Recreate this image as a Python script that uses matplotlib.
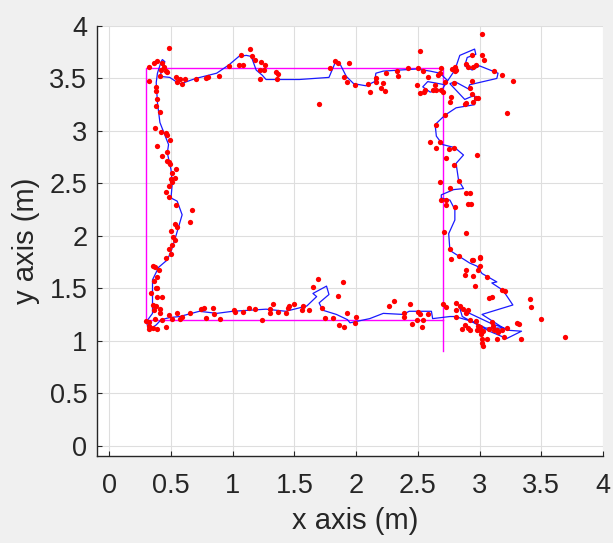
import matplotlib
matplotlib.use("Agg")
import matplotlib.pyplot as plt

# reference route (rectangle corners + lower edge)
ref_x = [2.7, 0.3, 0.3, 2.7, 2.7]
ref_y = [1.2, 1.2, 3.6, 3.6, 0.9]

# estimated trajectory
est_x = [0.32, 0.30, 0.35, 0.35, 0.35, 0.40, 0.47, 0.50, 0.53, 0.59, 0.55, 0.50, 0.51, 0.50,
         0.47, 0.48, 0.45, 0.41, 0.39, 0.38, 0.39, 0.42, 0.43, 0.45, 0.41, 0.49, 0.54, 0.58,
         0.70, 0.87, 0.97, 1.05, 1.11, 1.15, 1.19, 1.24, 1.27, 1.38, 1.54, 1.78, 1.83, 1.86,
         1.92, 1.98, 2.08, 2.15, 2.16, 2.22, 2.35, 2.49, 2.60, 2.68, 2.74, 2.70, 2.60, 2.54,
         2.58, 2.72, 2.80, 2.84, 2.96, 2.97, 2.90, 2.88, 2.94, 3.00, 3.15, 3.14, 2.92, 2.91,
         2.80, 2.76, 2.88, 2.96, 2.96, 2.81, 2.72, 2.64, 2.65, 2.70, 2.80, 2.87, 2.81, 2.83,
         2.87, 2.79, 2.69, 2.69, 2.76, 2.80, 2.80, 2.75, 2.76, 2.84, 2.92, 2.98, 3.02, 3.08,
         3.14, 3.10, 3.19, 3.27, 3.02, 3.22, 3.34, 3.22, 3.08, 2.86, 2.84, 2.92, 3.10, 3.20,
         3.05, 2.95, 2.80, 2.76, 2.62, 2.61, 2.43, 2.38, 2.22, 2.11, 1.95, 1.93, 1.84, 1.73,
         1.70, 1.78, 1.76, 1.65, 1.68, 1.60, 1.43, 1.27, 1.00, 0.87, 0.73, 0.57, 0.49, 0.42,
         0.38, 0.32]
est_y = [1.10, 1.18, 1.26, 1.40, 1.58, 1.70, 1.77, 1.85, 1.96, 2.20, 2.33, 2.36, 2.50, 2.63,
         2.79, 2.87, 2.96, 3.08, 3.27, 3.46, 3.55, 3.66, 3.68, 3.66, 3.52, 3.51, 3.47, 3.45,
         3.50, 3.55, 3.63, 3.71, 3.72, 3.71, 3.58, 3.53, 3.49, 3.49, 3.49, 3.51, 3.65, 3.66,
         3.52, 3.45, 3.43, 3.47, 3.55, 3.57, 3.58, 3.59, 3.57, 3.55, 3.48, 3.40, 3.37, 3.42,
         3.47, 3.44, 3.58, 3.72, 3.78, 3.73, 3.70, 3.62, 3.58, 3.62, 3.55, 3.50, 3.44, 3.40,
         3.47, 3.45, 3.30, 3.34, 3.25, 3.22, 3.15, 3.06, 2.95, 2.87, 2.84, 2.77, 2.69, 2.53,
         2.45, 2.44, 2.39, 2.36, 2.34, 2.25, 2.15, 2.02, 1.86, 1.80, 1.74, 1.71, 1.64, 1.60,
         1.56, 1.55, 1.48, 1.34, 1.25, 1.10, 1.09, 1.02, 1.09, 1.23, 1.31, 1.26, 1.16, 1.12,
         1.12, 1.18, 1.23, 1.23, 1.21, 1.28, 1.28, 1.25, 1.26, 1.21, 1.17, 1.20, 1.25, 1.29,
         1.36, 1.44, 1.52, 1.45, 1.42, 1.33, 1.28, 1.30, 1.28, 1.26, 1.28, 1.23, 1.22, 1.20,
         1.15, 1.10]

# raw position measurements
meas_x = [0.48, 0.32, 0.36, 0.39, 0.43, 0.44, 0.42, 0.46, 0.47, 0.41, 0.32, 0.54, 0.57, 0.55,
          0.61, 0.59, 0.70, 0.78, 0.80, 0.89, 0.97, 1.05, 1.08, 1.07, 1.14, 1.16, 1.18, 1.23,
          1.26, 1.22, 1.25, 1.22, 1.35, 1.37, 1.36, 1.70, 1.83, 1.85, 1.79, 1.90, 1.93, 1.94,
          0.38, 0.38, 0.39, 0.38, 0.37, 0.41, 0.39, 0.43, 0.46, 0.47, 0.49, 0.47, 0.47, 0.54,
          0.42, 0.48, 0.49, 0.51, 0.50, 0.53, 0.51, 0.48, 0.46, 0.48, 0.54, 0.67, 0.65, 0.53,
          0.55, 0.50, 0.52, 0.53, 0.51, 0.48, 0.50, 0.46, 0.35, 0.37, 0.40, 0.39, 0.36, 0.38,
          0.39, 0.34, 0.39, 0.43, 0.35, 0.38, 0.41, 0.36, 0.41, 0.37, 0.30, 0.32, 0.32, 0.35,
          0.32, 0.39, 0.43, 0.46, 0.48, 0.51, 0.55, 0.57, 0.59, 0.65, 0.74, 0.77, 0.78, 0.84,
          0.85, 0.90, 1.01, 1.02, 1.08, 1.13, 1.18, 1.24, 1.30, 1.30, 1.33, 1.37, 1.43, 1.45,
          1.46, 1.50, 1.56, 1.57, 1.62, 1.65, 1.69, 1.72, 1.75, 1.81, 1.85, 1.89, 1.86, 1.90,
          1.93, 2.77, 2.83, 2.95, 3.00, 3.00, 2.99, 2.89, 2.88, 2.95, 3.06, 2.96, 3.18, 3.21,
          3.10, 3.08, 3.41, 3.42, 3.50, 3.69, 3.34, 3.30, 3.32, 2.31, 2.27, 2.44, 2.39, 2.39,
          2.50, 2.52, 2.49, 2.54, 2.58, 2.45, 2.53, 2.00, 1.99, 2.70, 2.73, 2.81, 2.84, 2.81,
          2.87, 2.91, 2.89, 2.81, 2.88, 2.92, 2.97, 2.99, 3.00, 2.92, 3.00, 3.03, 3.10, 3.11,
          3.12, 3.14, 3.15, 3.18, 3.22, 3.14, 3.06, 3.02, 3.02, 3.03, 3.01, 2.98, 2.91, 2.86,
          3.08, 3.20, 3.02, 2.52, 3.02, 3.04, 2.94, 2.89, 2.91, 2.95, 2.97, 2.80, 2.81, 2.78,
          2.80, 3.12, 3.18, 3.27, 3.22, 2.94, 2.92, 2.94, 2.97, 2.99, 2.95, 2.89, 2.88, 2.76,
          2.77, 2.72, 2.79, 2.66, 2.69, 2.68, 2.64, 2.69, 2.70, 2.65, 2.62, 2.55, 2.52, 2.56,
          2.58, 2.49, 2.54, 2.50, 2.42, 2.34, 2.33, 2.23, 2.20, 2.22, 2.16, 2.16, 2.24, 2.11,
          2.10, 1.99, 2.72, 2.65, 2.60, 2.65, 2.68, 2.75, 2.79, 2.73, 2.79, 2.98, 2.68, 2.83,
          2.76, 2.89, 2.92, 2.69, 2.73, 2.73, 2.80, 2.91, 2.93, 2.71, 2.89, 2.76, 2.94, 3.00]
meas_y = [3.79, 3.61, 3.65, 3.67, 3.65, 3.61, 3.58, 3.57, 3.56, 3.52, 3.48, 3.51, 3.49, 3.47,
          3.49, 3.45, 3.49, 3.50, 3.51, 3.52, 3.62, 3.63, 3.63, 3.72, 3.78, 3.71, 3.68, 3.66,
          3.63, 3.58, 3.58, 3.49, 3.56, 3.54, 3.49, 3.26, 3.67, 3.65, 3.60, 3.51, 3.47, 3.65,
          3.42, 3.38, 3.30, 3.24, 3.03, 3.18, 2.86, 2.76, 2.98, 2.96, 2.91, 2.80, 2.71, 2.64,
          2.99, 2.70, 2.68, 2.60, 2.54, 2.55, 2.51, 2.47, 2.42, 2.37, 2.29, 2.25, 2.13, 2.11,
          2.08, 2.05, 1.99, 1.96, 1.91, 1.87, 1.83, 1.79, 1.71, 1.70, 1.67, 1.61, 1.57, 1.50,
          1.50, 1.45, 1.42, 1.42, 1.34, 1.33, 1.30, 1.29, 1.26, 1.21, 1.19, 1.18, 1.14, 1.12,
          1.11, 1.11, 1.20, 1.13, 1.24, 1.21, 1.26, 1.21, 1.23, 1.26, 1.30, 1.31, 1.22, 1.31,
          1.25, 1.21, 1.29, 1.27, 1.27, 1.31, 1.30, 1.20, 1.30, 1.26, 1.35, 1.27, 1.26, 1.31,
          1.33, 1.35, 1.29, 1.33, 1.29, 1.51, 1.59, 1.31, 1.22, 1.22, 1.43, 1.56, 1.15, 1.13,
          1.26, 1.78, 1.81, 1.77, 1.79, 1.71, 1.67, 1.67, 1.63, 1.62, 1.61, 1.52, 1.48, 1.47,
          1.42, 1.41, 1.40, 1.32, 1.21, 1.03, 1.02, 1.17, 1.16, 1.38, 1.33, 1.35, 1.26, 1.23,
          1.27, 1.25, 1.20, 1.20, 1.25, 1.16, 1.13, 1.23, 1.17, 1.35, 1.32, 1.36, 1.33, 1.29,
          1.30, 1.29, 1.26, 1.23, 1.15, 1.20, 1.19, 1.14, 1.13, 1.10, 1.10, 1.09, 1.18, 1.14,
          1.10, 1.10, 1.08, 1.10, 1.12, 1.02, 1.02, 1.02, 0.98, 0.95, 1.06, 1.10, 1.12, 1.11,
          1.11, 1.03, 3.92, 3.76, 3.72, 3.68, 3.72, 3.64, 3.61, 3.61, 3.63, 3.61, 3.58, 3.59,
          3.57, 3.57, 3.53, 3.48, 3.17, 3.48, 3.41, 3.35, 3.31, 3.31, 3.28, 3.27, 3.26, 3.28,
          3.32, 3.47, 3.46, 3.53, 3.60, 3.55, 3.44, 3.39, 3.37, 3.39, 3.39, 3.37, 3.36, 3.39,
          3.51, 3.44, 3.57, 3.60, 3.60, 3.52, 3.57, 3.38, 3.41, 3.46, 3.50, 3.47, 3.55, 3.37,
          3.45, 3.44, 3.15, 3.06, 2.89, 2.84, 2.89, 2.83, 2.84, 2.74, 2.67, 2.77, 2.51, 2.52,
          2.46, 2.41, 2.41, 2.34, 2.34, 2.29, 2.27, 2.30, 2.30, 2.04, 2.03, 1.87, 1.77, 1.80]

ticks = [0, 0.5, 1, 1.5, 2, 2.5, 3, 3.5, 4]
tick_labels = ["0", "0.5", "1", "1.5", "2", "2.5", "3", "3.5", "4"]

fig = plt.figure(figsize=(6.13, 5.43), dpi=100, facecolor="#f0f0f0")
ax = fig.add_axes([0.1582, 0.1602, 0.8254, 0.7919])
ax.set_facecolor("white")

ax.plot(ref_x, ref_y, color="#ff00ff", lw=1.0, zorder=2)
ax.plot(est_x, est_y, color="#1a1aff", lw=0.9, zorder=3)
ax.plot(meas_x, meas_y, "o", color="#ff0000", ms=3.8, mec="none", zorder=4)

ax.set_xlim(-0.1, 4)
ax.set_ylim(-0.1, 4)
ax.set_xticks(ticks)
ax.set_yticks(ticks)
ax.set_xticklabels(tick_labels)
ax.set_yticklabels(tick_labels)

ax.grid(True, color="#dedede", lw=0.8)
ax.set_axisbelow(True)
for s in ["top", "right"]:
    ax.spines[s].set_visible(False)
for s in ["left", "bottom"]:
    ax.spines[s].set_color("#262626")
    ax.spines[s].set_linewidth(1.0)

font = "Liberation Sans"
ax.tick_params(direction="in", length=3.6, width=0.8, color="#262626",
               labelcolor="#262626", labelsize=19.5)
ax.tick_params(axis="x", pad=12)
ax.tick_params(axis="y", pad=7)
for lab in ax.get_xticklabels() + ax.get_yticklabels():
    lab.set_fontfamily(font)

ax.set_xlabel("x axis (m)", fontsize=21, color="#262626", family=font)
ax.set_ylabel("y axis (m)", fontsize=21, color="#262626", family=font)
ax.xaxis.set_label_coords(0.51, -0.118)
ax.yaxis.set_label_coords(-0.113, 0.5)

fig.savefig("out.png", dpi=100, facecolor=fig.get_facecolor())
